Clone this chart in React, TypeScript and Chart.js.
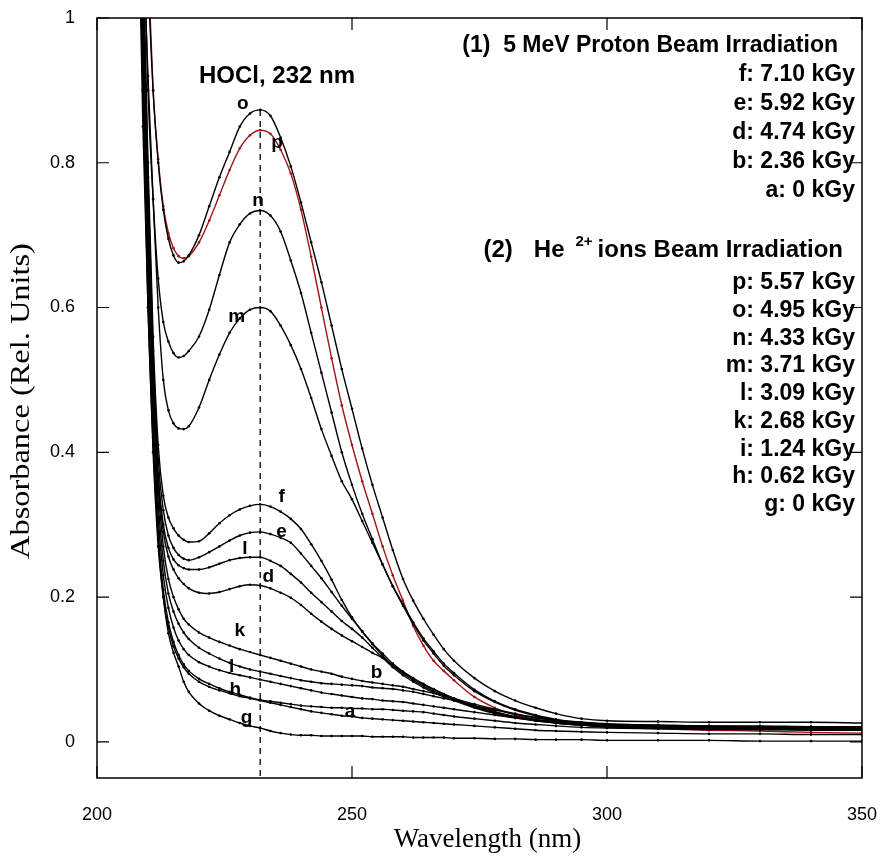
import React, { useEffect, useRef } from 'react';
import { Chart, registerables } from 'chart.js';
Chart.register(...registerables);

// Wavelength grid (nm)
const wavelengths = [206, 207, 208, 209, 210, 211, 212, 213, 214, 215, 216, 217, 218,
  220, 222, 224, 226, 228, 230, 232, 234, 236, 238, 240, 242, 244, 246, 248, 250, 252, 254, 256, 258, 260, 262, 264, 266, 268, 270,
  274, 278, 282, 286, 290, 295, 300, 310, 320, 330, 340, 350];

// Proton beam series
const seriesA = [2.2, 1.7, 1.25, 0.9, 0.6, 0.41, 0.28, 0.2, 0.158, 0.132, 0.115, 0.103, 0.094,
  0.083, 0.076, 0.071, 0.067, 0.063, 0.06, 0.057, 0.054, 0.051, 0.048, 0.045, 0.042, 0.04, 0.038, 0.036, 0.035, 0.033, 0.032, 0.031, 0.03, 0.029, 0.028, 0.027, 0.026, 0.025, 0.024,
  0.022, 0.02, 0.018, 0.016, 0.015, 0.014, 0.013, 0.012, 0.011, 0.011, 0.01, 0.01];
const seriesB = [2.3, 1.8, 1.35, 1.0, 0.7, 0.48, 0.33, 0.25, 0.205, 0.18, 0.163, 0.151, 0.142,
  0.13, 0.122, 0.115, 0.109, 0.104, 0.1, 0.097, 0.094, 0.091, 0.088, 0.085, 0.083, 0.081, 0.08, 0.079, 0.078, 0.077, 0.075, 0.074, 0.073, 0.071, 0.069, 0.066, 0.063, 0.06, 0.057,
  0.05, 0.044, 0.038, 0.033, 0.029, 0.026, 0.024, 0.023, 0.022, 0.022, 0.021, 0.021];
const seriesD = [2.3, 1.8, 1.35, 1.0, 0.72, 0.5, 0.36, 0.29, 0.256, 0.238, 0.226, 0.218, 0.212,
  0.206, 0.205, 0.207, 0.211, 0.215, 0.217, 0.216, 0.212, 0.206, 0.199, 0.189, 0.177, 0.166, 0.156, 0.147, 0.139, 0.131, 0.123, 0.116, 0.106, 0.096, 0.087, 0.079, 0.072, 0.066, 0.06,
  0.049, 0.041, 0.034, 0.029, 0.026, 0.023, 0.021, 0.019, 0.018, 0.017, 0.017, 0.016];
const seriesE = [2.4, 1.9, 1.45, 1.08, 0.78, 0.54, 0.39, 0.32, 0.285, 0.268, 0.258, 0.253, 0.251,
  0.255, 0.262, 0.27, 0.278, 0.285, 0.289, 0.29, 0.287, 0.282, 0.275, 0.26, 0.243, 0.226, 0.207, 0.188, 0.17, 0.153, 0.135, 0.119, 0.105, 0.094, 0.085, 0.077, 0.07, 0.064, 0.058,
  0.048, 0.04, 0.034, 0.03, 0.027, 0.024, 0.022, 0.021, 0.02, 0.019, 0.019, 0.018];
const seriesF = [2.4, 1.9, 1.45, 1.1, 0.8, 0.56, 0.41, 0.34, 0.31, 0.295, 0.285, 0.279, 0.276,
  0.277, 0.288, 0.302, 0.313, 0.321, 0.326, 0.328, 0.325, 0.318, 0.308, 0.294, 0.273, 0.25, 0.224, 0.196, 0.172, 0.152, 0.136, 0.122, 0.108, 0.097, 0.088, 0.08, 0.073, 0.066, 0.06,
  0.05, 0.042, 0.035, 0.031, 0.028, 0.025, 0.023, 0.022, 0.021, 0.02, 0.02, 0.02];

// He2+ beam series
const seriesG = [2.0, 1.6, 1.2, 0.85, 0.6, 0.4, 0.27, 0.2, 0.15, 0.123, 0.104, 0.083, 0.069,
  0.053, 0.043, 0.036, 0.031, 0.026, 0.022, 0.019, 0.015, 0.012, 0.01, 0.009, 0.009, 0.008, 0.008, 0.008, 0.008, 0.008, 0.007, 0.007, 0.007, 0.007, 0.006, 0.006, 0.006, 0.006, 0.005,
  0.005, 0.004, 0.004, 0.003, 0.003, 0.003, 0.002, 0.002, 0.002, 0.001, 0.001, 0.001];
const seriesH = [2.2, 1.7, 1.25, 0.9, 0.62, 0.42, 0.29, 0.21, 0.165, 0.138, 0.12, 0.107, 0.098,
  0.087, 0.08, 0.074, 0.069, 0.065, 0.061, 0.058, 0.056, 0.054, 0.052, 0.05, 0.049, 0.048, 0.047, 0.047, 0.046, 0.046, 0.045, 0.045, 0.044, 0.043, 0.042, 0.041, 0.039, 0.037, 0.035,
  0.032, 0.029, 0.026, 0.024, 0.022, 0.02, 0.019, 0.018, 0.017, 0.017, 0.016, 0.016];
const seriesI = [2.2, 1.75, 1.3, 0.95, 0.66, 0.45, 0.31, 0.23, 0.185, 0.158, 0.14, 0.128, 0.12,
  0.11, 0.104, 0.099, 0.095, 0.092, 0.089, 0.086, 0.083, 0.08, 0.077, 0.074, 0.071, 0.068, 0.066, 0.064, 0.062, 0.06, 0.059, 0.057, 0.056, 0.055, 0.053, 0.051, 0.049, 0.047, 0.045,
  0.041, 0.037, 0.033, 0.03, 0.027, 0.024, 0.022, 0.021, 0.02, 0.019, 0.019, 0.018];
const seriesK = [2.3, 1.8, 1.35, 1.0, 0.72, 0.5, 0.35, 0.27, 0.225, 0.2, 0.183, 0.17, 0.162,
  0.151, 0.144, 0.138, 0.133, 0.128, 0.124, 0.12, 0.116, 0.112, 0.108, 0.104, 0.1, 0.097, 0.094, 0.09, 0.087, 0.084, 0.082, 0.08, 0.078, 0.076, 0.073, 0.07, 0.067, 0.064, 0.06,
  0.052, 0.045, 0.039, 0.034, 0.03, 0.027, 0.025, 0.023, 0.022, 0.021, 0.021, 0.02];
const seriesL = [2.3, 1.85, 1.4, 1.05, 0.76, 0.52, 0.37, 0.3, 0.268, 0.252, 0.244, 0.24, 0.238,
  0.238, 0.241, 0.246, 0.251, 0.254, 0.255, 0.255, 0.25, 0.243, 0.232, 0.22, 0.206, 0.193, 0.18, 0.167, 0.156, 0.144, 0.13, 0.116, 0.103, 0.092, 0.083, 0.075, 0.068, 0.062, 0.057,
  0.047, 0.039, 0.033, 0.029, 0.026, 0.023, 0.021, 0.02, 0.019, 0.018, 0.018, 0.017];
const seriesM = [2.3, 1.8, 1.4, 1.12, 0.92, 0.75, 0.6, 0.5, 0.458, 0.44, 0.433, 0.432, 0.436,
  0.462, 0.5, 0.535, 0.565, 0.585, 0.597, 0.6, 0.595, 0.575, 0.548, 0.515, 0.475, 0.432, 0.395, 0.36, 0.335, 0.305, 0.275, 0.245, 0.215, 0.188, 0.163, 0.14, 0.122, 0.105, 0.092,
  0.07, 0.055, 0.044, 0.036, 0.03, 0.026, 0.023, 0.021, 0.02, 0.019, 0.019, 0.018];
const seriesN = [2.4, 1.9, 1.5, 1.15, 0.9, 0.75, 0.64, 0.58, 0.553, 0.537, 0.531, 0.533, 0.54,
  0.56, 0.597, 0.645, 0.69, 0.715, 0.73, 0.734, 0.727, 0.705, 0.665, 0.62, 0.565, 0.51, 0.455, 0.4, 0.355, 0.315, 0.28, 0.245, 0.215, 0.19, 0.165, 0.143, 0.125, 0.108, 0.095,
  0.072, 0.056, 0.045, 0.037, 0.031, 0.027, 0.024, 0.022, 0.021, 0.02, 0.02, 0.02];
const seriesO = [2.2, 1.9, 1.6, 1.3, 1.06, 0.9, 0.8, 0.735, 0.695, 0.672, 0.662, 0.664, 0.672,
  0.7, 0.74, 0.78, 0.815, 0.85, 0.868, 0.873, 0.865, 0.835, 0.795, 0.745, 0.69, 0.635, 0.575, 0.515, 0.46, 0.405, 0.355, 0.31, 0.265, 0.225, 0.195, 0.17, 0.148, 0.128, 0.112,
  0.088, 0.07, 0.057, 0.047, 0.039, 0.032, 0.029, 0.028, 0.027, 0.027, 0.027, 0.026];
const seriesP = [2.4, 2.0, 1.6, 1.3, 1.08, 0.9, 0.805, 0.74, 0.703, 0.682, 0.671, 0.668, 0.671,
  0.69, 0.72, 0.755, 0.79, 0.82, 0.838, 0.845, 0.84, 0.818, 0.785, 0.735, 0.67, 0.6, 0.53, 0.465, 0.41, 0.36, 0.315, 0.27, 0.23, 0.195, 0.16, 0.133, 0.112, 0.098, 0.085,
  0.062, 0.047, 0.037, 0.031, 0.026, 0.023, 0.02, 0.018, 0.016, 0.015, 0.013, 0.012];

const markerWavelength = 232;
const xTicks = [200, 250, 300, 350];
const yTicks = [0, 0.2, 0.4, 0.6, 0.8, 1];

const xTitle = 'Wavelength (nm)';
const yTitle = 'Absorbance (Rel. Units)';
const peakLabel = 'HOCl, 232 nm';
const protonTitle = '(1)  5 MeV Proton Beam Irradiation';
const protonLegend = ['f: 7.10 kGy', 'e: 5.92 kGy', 'd: 4.74 kGy', 'b: 2.36 kGy', 'a: 0 kGy'];
const heLegend = ['p: 5.57 kGy', 'o: 4.95 kGy', 'n: 4.33 kGy', 'm: 3.71 kGy', 'l: 3.09 kGy',
  'k: 2.68 kGy', 'i: 1.24 kGy', 'h: 0.62 kGy', 'g: 0 kGy'];

// Curve letter annotations (data coordinates)
const curveLabels = [
  { t: 'o', x: 228.6, y: 0.881 }, { t: 'p', x: 235.3, y: 0.828 }, { t: 'n', x: 231.6, y: 0.748 },
  { t: 'm', x: 227.4, y: 0.587 }, { t: 'f', x: 236.2, y: 0.338 }, { t: 'e', x: 236.2, y: 0.29 },
  { t: 'l', x: 229.0, y: 0.267 }, { t: 'd', x: 233.6, y: 0.228 }, { t: 'k', x: 228.0, y: 0.154 },
  { t: 'l', x: 226.4, y: 0.104 }, { t: 'h', x: 227.1, y: 0.072 }, { t: 'b', x: 254.8, y: 0.095 },
  { t: 'a', x: 249.6, y: 0.042 }, { t: 'g', x: 229.3, y: 0.033 },
];

const SANS = '"Liberation Sans", Arial, sans-serif';
const SERIF = '"Liberation Serif", "Times New Roman", serif';

const framePlugin = {
  id: 'frameTicks',
  afterDatasetsDraw(chart: any) {
    const { ctx, chartArea: ca, scales } = chart;
    const x = scales.x, y = scales.y;
    ctx.save();
    ctx.strokeStyle = '#000';
    ctx.lineWidth = 1.5;
    ctx.strokeRect(ca.left, ca.top, ca.right - ca.left, ca.bottom - ca.top);
    ctx.lineWidth = 1.2;
    const L = 12;
    ctx.beginPath();
    x.ticks.forEach((t: any) => {
      const px = x.getPixelForValue(t.value);
      ctx.moveTo(px, ca.bottom); ctx.lineTo(px, ca.bottom - L);
      ctx.moveTo(px, ca.top); ctx.lineTo(px, ca.top + L);
    });
    y.ticks.forEach((t: any) => {
      const py = y.getPixelForValue(t.value);
      ctx.moveTo(ca.left, py); ctx.lineTo(ca.left + L, py);
      ctx.moveTo(ca.right, py); ctx.lineTo(ca.right - L, py);
    });
    ctx.stroke();
    ctx.restore();
  },
};

const textPlugin = {
  id: 'texts',
  afterDraw(chart: any) {
    const { ctx, chartArea: ca, scales } = chart;
    const x = scales.x, y = scales.y;
    ctx.save();
    ctx.fillStyle = '#000';
    ctx.textBaseline = 'middle';
    ctx.textAlign = 'center';

    // axis titles
    ctx.font = `27px ${SERIF}`;
    ctx.fillText(xTitle, (ca.left + ca.right) / 2 + 8, ca.bottom + 62);
    ctx.save();
    ctx.translate(ca.left - 75, (ca.top + ca.bottom) / 2 + 3);
    ctx.rotate(-Math.PI / 2);
    ctx.scale(1.2, 1);
    ctx.font = `27px ${SERIF}`;
    ctx.fillText(yTitle, 0, 0);
    ctx.restore();

    ctx.font = `bold 24px ${SANS}`;
    ctx.fillText(peakLabel, x.getPixelForValue(235.3), y.getPixelForValue(0.919));
    ctx.font = `bold 19px ${SANS}`;
    curveLabels.forEach((l) => ctx.fillText(l.t, x.getPixelForValue(l.x), y.getPixelForValue(l.y)));

    ctx.font = `bold 23px ${SANS}`;
    ctx.textAlign = 'right';
    ctx.fillText(protonTitle, ca.right - 24, ca.top + 28);
    protonLegend.forEach((t, i) => ctx.fillText(t, ca.right - 7, ca.top + 57 + i * 29));

    // (2) He2+ title with superscript
    const R = ca.right - 19;
    const ty = ca.top + 232;
    const part3 = 'ions Beam Irradiation';
    ctx.font = `bold 24px ${SANS}`;
    const w3 = ctx.measureText(part3).width;
    const wHe = ctx.measureText('He').width;
    ctx.font = `bold 15px ${SANS}`;
    const wSup = ctx.measureText('2+').width;
    const supLeft = R - w3 - 5 - wSup;
    ctx.textAlign = 'left';
    ctx.fillText('2+', supLeft, ty - 8);
    ctx.font = `bold 24px ${SANS}`;
    ctx.textAlign = 'right';
    ctx.fillText(part3, R, ty);
    const heRight = supLeft - 11;
    ctx.fillText('He', heRight, ty);
    ctx.fillText('(2)', heRight - wHe - 21, ty);
    ctx.font = `bold 23px ${SANS}`;
    heLegend.forEach((t, i) => ctx.fillText(t, ca.right - 7, ca.top + 265 + i * 27.7));
    ctx.restore();
  },
};

export default function App() {
  const ref = useRef<HTMLCanvasElement>(null);
  useEffect(() => {
    const black = '#000000';
    const red = '#a01414';
    const series = [
      { name: 'a', values: seriesA, color: black },
      { name: 'b', values: seriesB, color: black },
      { name: 'd', values: seriesD, color: black },
      { name: 'e', values: seriesE, color: black },
      { name: 'f', values: seriesF, color: black },
      { name: 'g', values: seriesG, color: black },
      { name: 'h', values: seriesH, color: black },
      { name: 'i', values: seriesI, color: black },
      { name: 'k', values: seriesK, color: black },
      { name: 'l', values: seriesL, color: black },
      { name: 'm', values: seriesM, color: black },
      { name: 'n', values: seriesN, color: black },
      { name: 'o', values: seriesO, color: black },
      { name: 'p', values: seriesP, color: red },
    ];
    const datasets: any[] = series.map((s) => ({
      label: s.name,
      data: wavelengths.map((w, i) => ({ x: w, y: s.values[i] })),
      borderColor: s.color,
      backgroundColor: s.color,
      pointBackgroundColor: s.color,
      borderWidth: 1.4,
      pointRadius: 1.3,
      pointBorderWidth: 0,
      cubicInterpolationMode: 'monotone',
      fill: false,
    }));
    datasets.push({
      label: 'HOCl 232 nm',
      data: [{ x: markerWavelength, y: seriesO[wavelengths.indexOf(markerWavelength)] }, { x: markerWavelength, y: -0.05 }],
      borderColor: black,
      borderWidth: 1.3,
      borderDash: [6, 5],
      pointRadius: 0,
      fill: false,
    });
    const chart = new Chart(ref.current as HTMLCanvasElement, {
      type: 'line',
      data: { datasets },
      options: {
        animation: false,
        responsive: true,
        maintainAspectRatio: false,
        layout: { padding: { top: 18, right: 18, left: 0, bottom: 0 } },
        plugins: { legend: { display: false }, tooltip: { enabled: false } },
        scales: {
          x: {
            type: 'linear', min: 200, max: 350,
            afterBuildTicks: (s: any) => { s.ticks = xTicks.map((v) => ({ value: v })); },
            afterFit: (s: any) => { s.height = 79; s.paddingLeft = 0; s.paddingRight = 0; },
            grid: { display: false, drawTicks: false },
            border: { display: false },
            ticks: { padding: 26, color: '#000', font: { family: SANS, size: 18 }, callback: (v: any) => String(v) },
            title: { display: false },
          },
          y: {
            type: 'linear', min: -0.05, max: 1,
            afterBuildTicks: (s: any) => { s.ticks = yTicks.map((v) => ({ value: v })); },
            afterFit: (s: any) => { s.width = 97; s.paddingTop = 0; s.paddingBottom = 0; },
            grid: { display: false, drawTicks: false },
            border: { display: false },
            ticks: { padding: 22, color: '#000', font: { family: SANS, size: 18 }, callback: (v: any) => String(v) },
            title: { display: false },
          },
        },
      } as any,
      plugins: [framePlugin, textPlugin],
    });
    return () => chart.destroy();
  }, []);
  return (
    <div style={{ position: 'absolute', left: 0, top: 0, width: 880, height: 857 }}>
      <canvas ref={ref} />
    </div>
  );
}
